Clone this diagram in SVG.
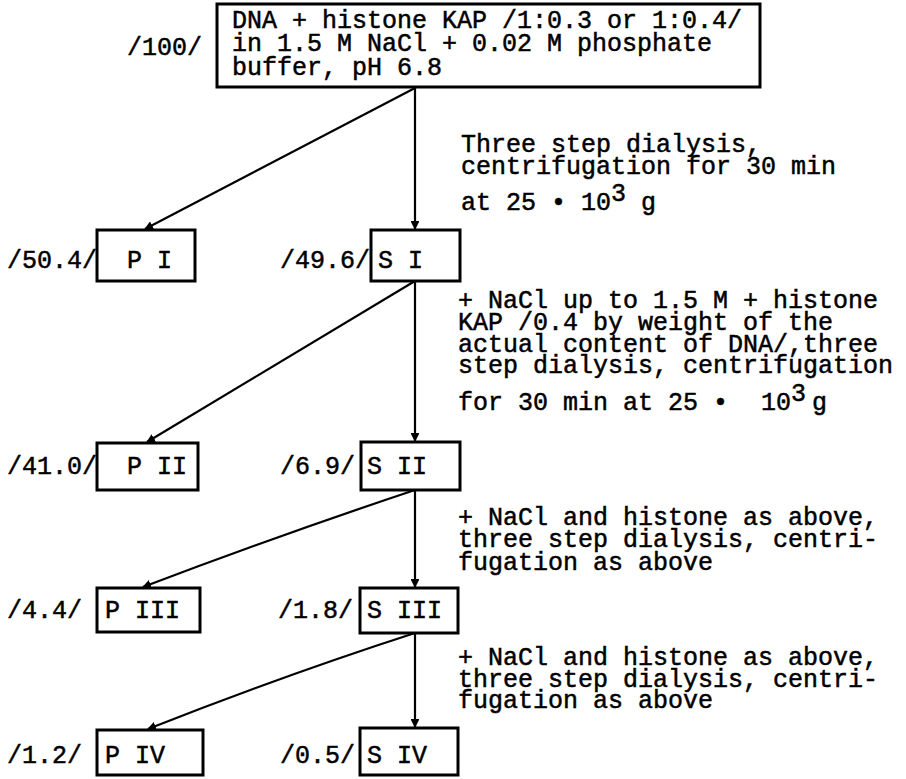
<svg xmlns="http://www.w3.org/2000/svg" width="906" height="779" viewBox="0 0 906 779">
<style>
.t{font-family:"Liberation Mono","DejaVu Sans Mono",monospace;font-size:25px;fill:#000;stroke:#000;stroke-width:0.5}
.box{fill:#fff;stroke:#000;stroke-width:3}
.c{fill:none;stroke:#000;stroke-width:2.2}
</style>
<defs>
<marker id="ah" viewBox="0 0 10 10" refX="9" refY="5" markerWidth="4" markerHeight="4" orient="auto" markerUnits="strokeWidth">
<path d="M0,0 L10,5 L0,10 z" fill="#000"/>
</marker>
</defs>
<rect width="906" height="779" fill="#fff"/>
<g id="connectors">
<line class="c" x1="415" y1="88" x2="415" y2="229" marker-end="url(#ah)"/>
<line class="c" x1="415" y1="88" x2="145" y2="229" marker-end="url(#ah)"/>
<line class="c" x1="415" y1="281" x2="415" y2="441" marker-end="url(#ah)"/>
<line class="c" x1="415" y1="281" x2="147" y2="442" marker-end="url(#ah)"/>
<line class="c" x1="415" y1="490" x2="415" y2="587" marker-end="url(#ah)"/>
<path class="c" d="M415,490 Q280,535 143,587" marker-end="url(#ah)"/>
<line class="c" x1="415" y1="633" x2="415" y2="727" marker-end="url(#ah)"/>
<path class="c" d="M415,633 Q285,675 148,729" marker-end="url(#ah)"/>
</g>
<g id="start">
<text class="t" x="127" y="55">/100/</text>
<rect class="box" x="217" y="4" width="543" height="83"/>
<text class="t"><tspan x="232" y="28">DNA + histone KAP /1:0.3 or 1:0.4/</tspan><tspan x="232" y="51">in 1.5 M NaCl + 0.02 M phosphate</tspan><tspan x="232" y="75">buffer, pH 6.8</tspan></text>
</g>
<g id="step1">
<text class="t"><tspan x="461" y="152">Three step dialysis,</tspan><tspan x="461" y="174">centrifugation for 30 min</tspan><tspan x="461" y="210">at 25 • 10</tspan><tspan x="611" y="201">3</tspan><tspan x="641" y="210">g</tspan></text>
</g>
<g id="PI">
<text class="t" x="7" y="268">/50.4/</text>
<rect class="box" x="97" y="230" width="98" height="51"/>
<text class="t" x="127" y="268">P I</text>
</g>
<g id="SI">
<text class="t" x="280" y="268">/49.6/</text>
<rect class="box" x="371" y="230" width="89" height="51"/>
<text class="t" x="378" y="268">S I</text>
</g>
<g id="step2">
<text class="t"><tspan x="458" y="308">+ NaCl up to 1.5 M + histone</tspan><tspan x="458" y="330">KAP /0.4 by weight of the</tspan><tspan x="458" y="352">actual content of DNA/,three</tspan><tspan x="458" y="373">step dialysis, centrifugation</tspan><tspan x="458" y="410">for 30 min at 25 •</tspan><tspan x="761" y="410">10</tspan><tspan x="791" y="401">3</tspan><tspan x="812" y="410">g</tspan></text>
</g>
<g id="PII">
<text class="t" x="7" y="474">/41.0/</text>
<rect class="box" x="97" y="443" width="101" height="47"/>
<text class="t" x="127" y="474">P II</text>
</g>
<g id="SII">
<text class="t" x="280" y="474">/6.9/</text>
<rect class="box" x="361" y="442" width="99" height="48"/>
<text class="t" x="367" y="474">S II</text>
</g>
<g id="step3">
<text class="t"><tspan x="458" y="525">+ NaCl and histone as above,</tspan><tspan x="458" y="547">three step dialysis, centri-</tspan><tspan x="458" y="570">fugation as above</tspan></text>
</g>
<g id="PIII">
<text class="t" x="7" y="618">/4.4/</text>
<rect class="box" x="97" y="588" width="103" height="44"/>
<text class="t" x="105" y="618">P III</text>
</g>
<g id="SIII">
<text class="t" x="278" y="618">/1.8/</text>
<rect class="box" x="360" y="588" width="98" height="45"/>
<text class="t" x="367" y="618">S III</text>
</g>
<g id="step4">
<text class="t"><tspan x="458" y="665">+ NaCl and histone as above,</tspan><tspan x="458" y="687">three step dialysis, centri-</tspan><tspan x="458" y="708">fugation as above</tspan></text>
</g>
<g id="PIV">
<text class="t" x="7" y="763">/1.2/</text>
<rect class="box" x="97" y="730" width="106" height="45"/>
<text class="t" x="105" y="763">P IV</text>
</g>
<g id="SIV">
<text class="t" x="280" y="763">/0.5/</text>
<rect class="box" x="360" y="728" width="98" height="47"/>
<text class="t" x="367" y="763">S IV</text>
</g>
</svg>
